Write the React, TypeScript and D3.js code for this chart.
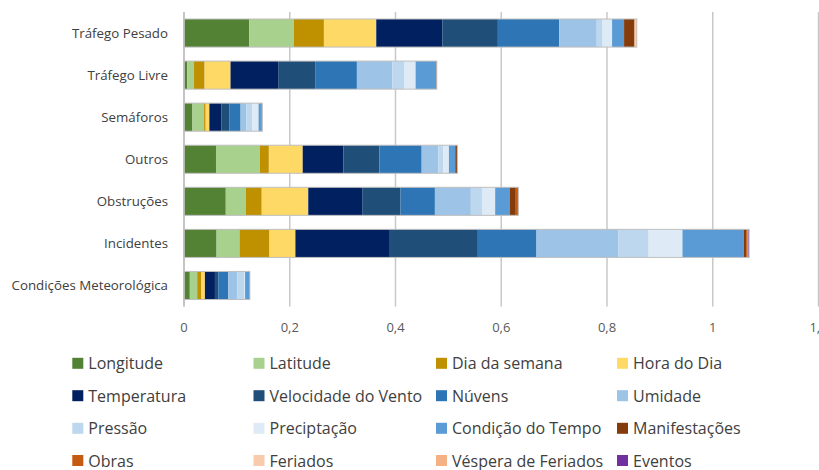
import React from "react";
import * as d3 from "d3";

const categories = [
  "Tráfego Pesado",
  "Tráfego Livre",
  "Semáforos",
  "Outros",
  "Obstruções",
  "Incidentes",
  "Condições Meteorológica",
];

const seriesNames = [
  "Longitude", "Latitude", "Dia da semana", "Hora do Dia",
  "Temperatura", "Velocidade do Vento", "Núvens", "Umidade",
  "Pressão", "Preciptação", "Condição do Tempo", "Manifestações",
  "Obras", "Feriados", "Véspera de Feriados", "Eventos",
];

const seriesColors = [
  "#548235", "#a9d18e", "#bf9000", "#ffd966",
  "#002060", "#1f4e79", "#2e75b6", "#9dc3e6",
  "#bdd7ee", "#deebf7", "#5b9bd5", "#843c0c",
  "#c55a11", "#f8cbad", "#f4b183", "#7030a0",
];

const longitude = [0.1236, 0.006, 0.016, 0.0605, 0.079, 0.0616, 0.011];
const latitude = [0.084, 0.013, 0.022, 0.083, 0.038, 0.0434, 0.014];
const diaSemana = [0.057, 0.020, 0.003, 0.017, 0.030, 0.0567, 0.008];
const horaDia = [0.099, 0.049, 0.007, 0.064, 0.088, 0.049, 0.0065];
const temperatura = [0.125, 0.091, 0.023, 0.077, 0.102, 0.177, 0.019];
const vento = [0.105, 0.070, 0.0145, 0.068, 0.0725, 0.168, 0.0063];
const nuvens = [0.116, 0.078, 0.0215, 0.080, 0.065, 0.111, 0.019];
const umidade = [0.071, 0.067, 0.011, 0.0315, 0.068, 0.155, 0.017];
const pressao = [0.011, 0.023, 0.011, 0.009, 0.021, 0.057, 0.0127];
const precipitacao = [0.018, 0.021, 0.012, 0.011, 0.025, 0.064, 0.002];
const condicao = [0.0227, 0.039, 0.006, 0.012, 0.028, 0.116, 0.008];
const manifestacoes = [0.019, 0.001, 0.001, 0.004, 0.0095, 0.0045, 0.001];
const obras = [0.001, 0, 0, 0, 0.0063, 0.003, 0];
const feriados = [0.003, 0, 0, 0, 0, 0, 0];
const vespera = [0.001, 0, 0, 0, 0, 0.001, 0];
const eventos = [0, 0, 0, 0, 0, 0.0015, 0];

const seriesValues = [
  longitude, latitude, diaSemana, horaDia, temperatura, vento, nuvens, umidade,
  pressao, precipitacao, condicao, manifestacoes, obras, feriados, vespera, eventos,
];

const xTicks = [0, 0.2, 0.4, 0.6, 0.8, 1, 1.2];

export default function App() {
  const W = 819;
  const H = 470;
  const left = 184;
  const right = 818.5;
  const top = 12;
  const bottom = 306.5;

  const x = d3.scaleLinear().domain([0, 1.2]).range([left, right]);
  const y = d3
    .scaleBand<string>()
    .domain(categories)
    .range([top, bottom])
    .paddingInner(0.333)
    .paddingOuter(0.1665);

  const rows = categories.map((c, i) => {
    const obj: Record<string, any> = { cat: c };
    seriesNames.forEach((s, j) => (obj[s] = seriesValues[j][i]));
    return obj;
  });
  const stack = d3.stack<any>().keys(seriesNames)(rows);
  const fmt = (v: number) => (v === 0 ? "0" : String(+v.toFixed(1)).replace(".", ","));

  const legendCols = [72.3, 253.5, 436, 617];
  const legendRows = [363.3, 395.7, 428.3, 460.5];
  const font = "'Open Sans', sans-serif";

  return (
    <svg
      width={W}
      height={H}
      style={{ position: "absolute", left: 0, top: 0, background: "#fff" }}
    >
      {xTicks.map((t) => (
        <line
          key={"g" + t}
          x1={x(t)}
          x2={x(t)}
          y1={top}
          y2={bottom}
          stroke="#c8c8c8"
          strokeWidth={1.5}
        />
      ))}
      {stack.map((layer, j) => (
        <g key={seriesNames[j]} fill={seriesColors[j]}>
          {layer.map((d, i) =>
            d[1] - d[0] > 0 ? (
              <rect
                key={i}
                x={x(d[0])}
                width={x(d[1]) - x(d[0])}
                y={y(categories[i])}
                height={y.bandwidth()}
              />
            ) : null
          )}
        </g>
      ))}
      {categories.map((c, i) => {
        const total = d3.sum(seriesValues, (s) => s[i]);
        return (
          <rect
            key={"o" + c}
            x={x(0)}
            y={y(c)}
            width={x(total) - x(0)}
            height={y.bandwidth()}
            fill="none"
            stroke="#bfbfbf"
            strokeWidth={1}
          />
        );
      })}
      <line x1={x(0)} x2={x(0)} y1={top} y2={bottom} stroke="#bfbfbf" strokeWidth={1.5} />
      {categories.map((c) => (
        <text
          key={"l" + c}
          x={168}
          y={(y(c) as number) + y.bandwidth() / 2}
          textAnchor="end"
          dominantBaseline="central"
          fontFamily={font}
          fontSize={13.3}
          fill="#404040"
        >
          {c}
        </text>
      ))}
      {xTicks.map((t) => (
        <text
          key={"t" + t}
          x={x(t)}
          y={327}
          textAnchor="middle"
          dominantBaseline="central"
          fontFamily={font}
          fontSize={13}
          fill="#595959"
        >
          {fmt(t)}
        </text>
      ))}
      {seriesNames.map((s, j) => {
        const cx = legendCols[j % 4];
        const cy = legendRows[Math.floor(j / 4)];
        return (
          <g key={"lg" + s}>
            <rect x={cx} y={cy - 5.5} width={11} height={11} fill={seriesColors[j]} />
            <text
              x={cx + 16}
              y={cy}
              dominantBaseline="central"
              fontFamily={font}
              fontSize={16}
              fill="#404040"
            >
              {s}
            </text>
          </g>
        );
      })}
    </svg>
  );
}
